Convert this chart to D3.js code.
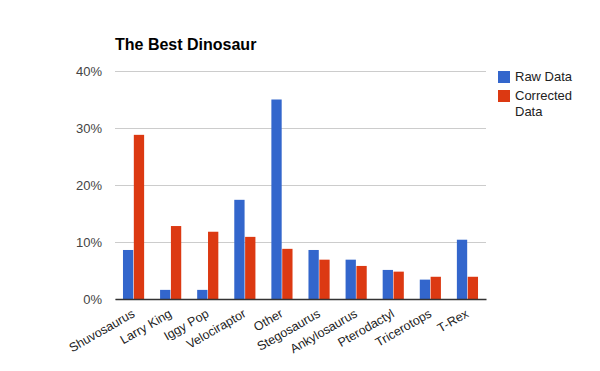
<!DOCTYPE html>
<meta charset="UTF-8">
<script src="https://d3js.org/d3.v7.min.js"></script>
<style>
body { margin: 0; background: #fff; }
text { font-family: Arial, "Liberation Sans", sans-serif; }
</style>
<div id="my_dataviz"></div>
<script>

// data (percent)
var dinosaurs = ["Shuvosaurus", "Larry King", "Iggy Pop", "Velociraptor", "Other", "Stegosaurus", "Ankylosaurus", "Pterodactyl", "Tricerotops", "T-Rex"]
var rawData = [8.6, 1.6, 1.6, 17.4, 35.0, 8.6, 6.9, 5.1, 3.4, 10.4]
var correctedData = [28.8, 12.8, 11.8, 10.9, 8.8, 6.9, 5.8, 4.8, 3.9, 3.9]
var seriesNames = ["Raw Data", "Corrected Data"]
var yTicks = [0, 10, 20, 30, 40]

var width = 600
var height = 371
var margin = {top: 71, right: 114, bottom: 72, left: 115}

var svg = d3.select("#my_dataviz")
    .append("svg")
        .attr("width", width)
        .attr("height", height)

var color = d3.scaleOrdinal()
    .domain(seriesNames)
    .range(["#3366cc", "#dc3912"])

var x = d3.scaleBand()
    .domain(dinosaurs)
    .range([margin.left, width - margin.right])
    .paddingInner(0.43)
    .paddingOuter(0.215)

var xSub = d3.scaleBand()
    .domain(seriesNames)
    .range([0, x.bandwidth()])
    .paddingInner(0.05)

var y = d3.scaleLinear()
    .domain([0, 40])
    .range([height - margin.bottom, margin.top])

// gridlines + y labels
var yAxis = svg.append("g")
    .attr("transform", "translate(" + margin.left + ",0)")
    .call(d3.axisLeft(y).tickValues(yTicks).tickFormat(function(d){ return d + "%" })
        .tickSize(-(width - margin.left - margin.right)).tickPadding(13))
yAxis.select(".domain").remove()
yAxis.selectAll(".tick line").attr("stroke", "#cccccc")
yAxis.selectAll(".tick text").attr("fill", "#444").style("font-size", "13px")

// bars
var rows = dinosaurs.map(function(name, i){
    return {name: name, values: [rawData[i], correctedData[i]]}
})

svg.append("g")
    .selectAll("g")
    .data(rows)
    .enter()
    .append("g")
        .attr("transform", function(d){ return "translate(" + x(d.name) + ",0)" })
    .selectAll("rect")
    .data(function(d){ return d.values.map(function(v, j){ return {key: seriesNames[j], value: v} }) })
    .enter()
    .append("rect")
        .attr("x", function(d){ return xSub(d.key) })
        .attr("y", function(d){ return y(d.value) })
        .attr("width", xSub.bandwidth())
        .attr("height", function(d){ return y(0) - y(d.value) })
        .attr("fill", function(d){ return color(d.key) })

// baseline + x labels
var xAxis = svg.append("g")
    .attr("transform", "translate(0," + y(0) + ")")
    .call(d3.axisBottom(x).tickSize(0).tickPadding(0))
xAxis.select(".domain").attr("stroke", "#333").attr("stroke-width", 1.3)
xAxis.selectAll(".tick text")
    .attr("fill", "#222")
    .style("font-size", "12.5px")
    .attr("text-anchor", "end")
    .attr("dy", "0")
    .attr("transform", "translate(2,17) rotate(-30)")

// title
svg.append("text")
    .attr("x", margin.left)
    .attr("y", 50)
    .style("font-size", "16px")
    .style("font-weight", "bold")
    .text("The Best Dinosaur")

// legend
var legend = svg.append("g").attr("transform", "translate(498,71)")
var legendRows = [["Raw Data"], ["Corrected", "Data"]]
legendRows.forEach(function(lines, i){
    var g = legend.append("g").attr("transform", "translate(0," + (i * 19) + ")")
    g.append("rect")
        .attr("width", 12)
        .attr("height", 12)
        .attr("fill", color(seriesNames[i]))
    lines.forEach(function(t, k){
        g.append("text")
            .attr("x", 17)
            .attr("y", 10 + k * 16)
            .attr("fill", "#222")
            .style("font-size", "13px")
            .text(t)
    })
})

</script>
